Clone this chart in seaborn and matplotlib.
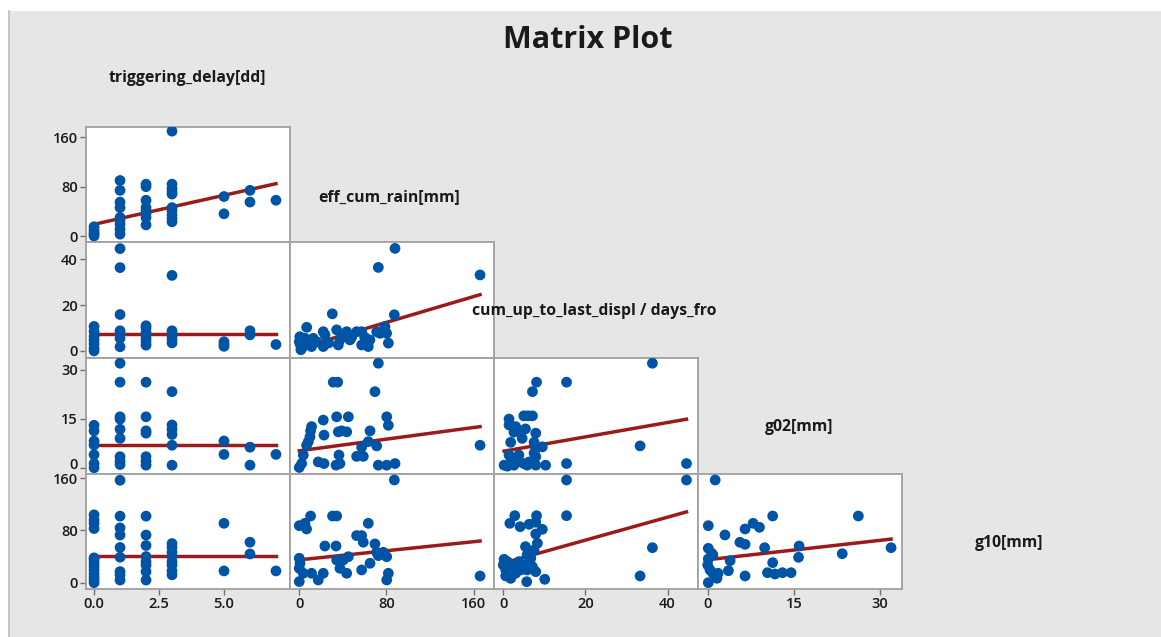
import numpy as np
import pandas as pd
import matplotlib
matplotlib.use("Agg")
import matplotlib.pyplot as plt
import matplotlib.transforms as mtransforms
import seaborn as sns
from matplotlib.patches import Rectangle
from matplotlib.lines import Line2D

# ---------------- data ----------------
variables = ["triggering_delay[dd]", "eff_cum_rain[mm]",
             "cum_up_to_last_displ / days_fro", "g02[mm]", "g10[mm]"]

# x ticks of the columns, y ticks of the rows
col_ticks = [[0, 2.5, 5.0], [0, 80, 160], [0, 20, 40], [0, 15, 30]]
col_ticklabels = [["0.0", "2.5", "5.0"], ["0", "80", "160"], ["0", "20", "40"], ["0", "15", "30"]]
row_ticks = [[0, 80, 160], [0, 20, 40], [0, 15, 30], [0, 80, 160]]
col_lims = [(-0.31, 7.54), (-8.5, 178.6), (-2.26, 47.4), (-1.69, 33.8)]
row_lims = [(-9.7, 176.7), (-3.1, 47.6), (-1.9, 33.6), (-9.7, 166.6)]

# panel (row 0, col 0): triggering_delay vs eff_cum_rain
td_eff_x = [0, 0, 0, 0, 0, 1, 1, 1, 1, 1, 1, 1, 1, 1, 2, 2, 2, 2, 2, 2, 2, 2,
            3, 3, 3, 3, 3, 3, 3, 3, 3, 3, 5, 5, 6, 6, 7]
td_eff_y = [15, 10, 6, 3, 0, 90, 74, 55, 46, 30, 25, 19, 11, 3, 84, 80, 58, 46, 41, 36, 30, 18,
            170, 84, 77, 72, 68, 46, 41, 34, 28, 23, 64, 36, 74, 55, 58]

# panel (1, 0): triggering_delay vs cum_up
td_cum_x = [0, 0, 0, 0, 0, 0, 0, 1, 1, 1, 1, 1, 1, 1, 2, 2, 2, 2, 2, 2, 2,
            3, 3, 3, 3, 3, 3, 5, 5, 5, 6, 6, 7]
td_cum_y = [10.7, 8.5, 6.3, 4.8, 3.1, 1.2, 0, 44.7, 36.4, 15.9, 8.8, 7.6, 5.5, 1.8,
            11, 10, 8, 7, 5.5, 4, 2.5, 33, 8.8, 7.6, 6.3, 5, 3.5, 4, 2.8, 2, 8.8, 7, 2.8]

# panel (1, 1): eff_cum_rain vs cum_up
eff_cum_x = [87.8, 72.5, 165.8, 30.3, 87.2, 6.8, 0.5, 1, 1, 1.5, 0, 5.2, 12.8, 11.3, 3.7,
             22, 22, 23.6, 34.3, 37.3, 35.8, 38.9, 43.5, 46.5, 52.6, 57.2, 57.2, 63.3, 64.8,
             71, 74, 78.6, 80.1, 81.7, 2.5, 8, 16, 27, 48, 60]
eff_cum_y = [44.8, 36.5, 33.2, 16.2, 15.8, 10.3, 6.2, 4.8, 2.7, 0.5, 4, 5.5, 5.5, 1.9, 1.9,
             1.9, 8.4, 7, 9.2, 4.8, 2.6, 6.3, 8.4, 4.8, 8.4, 8.4, 2.6, 1.9, 4.8,
             8.4, 7.7, 10.6, 7.7, 3.4, 2, 3, 4, 3.5, 6, 6]

# panel (2, 0): triggering_delay vs g02
td_g02_x = [0, 0, 0, 0, 0, 0, 0, 1, 1, 1, 1, 1, 1, 1, 1, 1, 2, 2, 2, 2, 2, 2, 2,
            3, 3, 3, 3, 3, 3, 5, 5, 6, 6, 7]
td_g02_y = [13, 11.3, 8.2, 7, 4, 1.3, 0, 32, 26.2, 15.6, 14.9, 11.8, 9, 3.4, 2, 1,
            26.2, 15.6, 11.3, 10.6, 3.4, 2, 0.8, 23.3, 13.1, 11.8, 10.2, 6.9, 0.8,
            8.2, 4.1, 6.3, 0.8, 4.1]

# panel (2, 1): eff_cum_rain vs g02
eff_g02_x = [0, 2.2, 3.7, 6.7, 8.3, 9.8, 10.4, 11.3, 17.4, 22.7, 22, 22.7, 31.2, 35.2, 34.3,
             33.7, 37.3, 36.4, 35.8, 38.9, 43.5, 45, 52.6, 57.2, 58.7, 64.9, 63.3, 69.4, 71,
             72.5, 72.5, 80.2, 87.8, 80.2, 81.7, 165.8]
eff_g02_y = [0.1, 1.3, 3.9, 6.9, 8, 9.5, 11.3, 12.6, 1.8, 1.3, 14.6, 10, 26.2, 26.2, 15.6,
             0.8, 1.3, 3.9, 11, 11.3, 11, 15.6, 3.5, 6.3, 3.5, 11.3, 8, 23.3, 6.7,
             32, 0.8, 0.8, 1.3, 15.6, 13, 6.9]

# panel (2, 2): cum_up vs g02
cum_g02_x = [36.3, 8.1, 15.4, 7.1, 5.0, 7.1, 6.0, 1.4, 1.4, 3.0, 3.4, 5.4, 7.9, 2.6, 1.8,
             4.6, 7.5, 9.5, 7.9, 33.3, 44.6, 15.4, 1.4, 3.8, 0.2, 2.6, 5.0, 5.8, 7.9, 7.9,
             10.3, 6.3, 1.0, 2.0, 3.5, 7.5]
cum_g02_y = [32, 26.2, 26.2, 23.3, 15.9, 15.9, 15.9, 14.9, 13.1, 12.6, 11.6, 11.9, 10.6, 10.9, 7.8,
             9.0, 7.8, 6.4, 6.0, 6.7, 1.3, 1.3, 3.9, 3.9, 0.8, 0.8, 1.3, 0.8, 3.4, 0.8,
             0.8, 1.8, 0.5, 2.5, 1.8, 4.5]

# panel (3, 0): triggering_delay vs g10
td_g10_x = [0] * 13 + [1] * 9 + [2] * 8 + [3] * 8 + [5, 5, 6, 6, 7]
td_g10_y = [104, 96, 91, 83, 38, 35, 30, 25, 19.5, 14, 9, 4, 0,
            157, 102, 84, 73, 54, 39, 17, 12, 4,
            102, 73, 57, 40, 32, 27, 17, 4,
            60, 54, 46.5, 40, 32, 27, 18, 12,
            91, 18, 62, 44, 18]

# panel (3, 1): eff_cum_rain vs g10
eff_g10_x = [0, 6.7, 5.2, 10.4, 0, 0.7, 0, 3.7, 0, 11.3, 17.4, 22, 23.5, 30.5, 34.3, 33.7,
             34.3, 37.3, 40.4, 45, 43.5, 52.6, 57.2, 58.7, 63.3, 57.2, 64.9, 69.4, 71, 72.5,
             77.1, 80.2, 81.7, 80.2, 87.2, 165.8]
eff_g10_y = [87.4, 82.3, 91, 102.2, 37.4, 29.7, 22, 14.4, 1.7, 14.4, 4.1, 14.4, 56.2, 102.2,
             102.2, 56.2, 34.7, 22, 34.7, 39.8, 14.4, 72.2, 72.2, 62, 91, 19.5, 29.7, 59.4,
             46.6, 41.5, 46.6, 39.8, 14.4, 4.1, 157.4, 10.2]

# panel (3, 2): cum_up vs g10
cum_g10_x = [15.4, 44.6, 15.4, 2.8, 8.1, 1.6, 4.1, 6.3, 7.9, 9.5, 7.9, 8.3, 5.4, 7.5, 5.8,
             36.3, 33.3, 10.1, 5.7, 0.2, 0, 0.6, 0.6, 1.8, 2.6, 3.8, 4.2, 6.7, 7.9, 5.0,
             3.0, 7.1, 1.0, 5.8]
cum_g10_y = [157.4, 157.4, 102.7, 102.7, 102.7, 91, 85.8, 89.5, 92.6, 81.8, 74.6, 60.4, 55.2,
             50.1, 42.5, 53.6, 10.3, 5.2, 1.5, 35.8, 27.1, 19.5, 10.3, 6.6, 24.5, 32.2,
             19.5, 37.4, 16.9, 27.1, 14.4, 24.5, 32.2, 19.5]

# panel (3, 3): g02 vs g10
g02_g10_x = [1.3, 0.1, 11.3, 26.2, 3.0, 6.5, 7.9, 9.0, 5.6, 6.5, 9.9, 15.9, 15.8, 23.4, 31.9,
             3.9, 3.6, 6.5, 11.3, 10.4, 11.7, 13.0, 14.5, 0.1, 0.7, 0.1, 0, 0.4, 0.9, 1.6,
             0.1, 0.9, 1.8]
g02_g10_y = [157.4, 87.4, 102.2, 102.2, 73.1, 82.3, 91, 84.9, 61.9, 58.8, 53.6, 56.2, 38.9,
             44.4, 53.6, 33.7, 18.4, 10.3, 30.7, 15.3, 13.3, 15.3, 15.3, 52.7, 45, 36.3,
             27.1, 19.5, 14.4, 6.7, 0, 42.5, 14.4]

panels = {
    (0, 0): (td_eff_x, td_eff_y),
    (1, 0): (td_cum_x, td_cum_y),
    (1, 1): (eff_cum_x, eff_cum_y),
    (2, 0): (td_g02_x, td_g02_y),
    (2, 1): (eff_g02_x, eff_g02_y),
    (2, 2): (cum_g02_x, cum_g02_y),
    (3, 0): (td_g10_x, td_g10_y),
    (3, 1): (eff_g10_x, eff_g10_y),
    (3, 2): (cum_g10_x, cum_g10_y),
    (3, 3): (g02_g10_x, g02_g10_y),
}
# fitted regression lines (intercept, slope)
fit_intercepts = {(0, 0): 19.0, (1, 0): 7.4, (1, 1): 1.2, (2, 0): 6.9, (2, 1): 5.2,
                  (2, 2): 5.06, (3, 0): 40.4, (3, 1): 35.0, (3, 2): 30.0, (3, 3): 35.2}
fit_slopes = {(0, 0): 9.4, (1, 0): 0.0, (1, 1): 0.141, (2, 0): 0.0, (2, 1): 0.0446,
              (2, 2): 0.22, (3, 0): 0.0, (3, 1): 0.174, (3, 2): 1.76, (3, 3): 0.99}

# ---------------- figure ----------------
W, H = 1161, 637
fig = plt.figure(figsize=(W / 100, H / 100), dpi=100)
fig.patch.set_facecolor("white")
plt.rcParams["font.family"] = ["Open Sans", "DejaVu Sans"]

bg = Rectangle((9 / W, 0), 1 - 9 / W, (H - 11) / H, transform=fig.transFigure,
               facecolor="#e6e6e6", edgecolor="none", zorder=-10)
fig.patches.append(bg)
fig.lines.append(Line2D([9 / W, 9 / W], [0, (H - 11) / H], transform=fig.transFigure,
                        color="#bdbdbd", lw=1.2))

col_left = [86, 290, 494, 698]
col_w = 204
row_top = [127, 242, 358, 474]
row_bot = [242, 358, 474, 589]

BLUE = "#0054a6"
RED = "#9b1b1b"
SPINE = "#a0a0a0"

for (r, c), (xs, ys) in panels.items():
    l = col_left[c] / W
    b = 1 - row_bot[r] / H
    h = (row_bot[r] - row_top[r]) / H
    ax = fig.add_axes([l, b, col_w / W, h])
    ax.set_facecolor("white")
    x0, x1 = min(xs), max(xs)
    lx = np.array([x0, x1])
    ly = fit_intercepts[(r, c)] + fit_slopes[(r, c)] * lx
    sns.lineplot(x=lx, y=ly, ax=ax, color=RED, lw=2.5, zorder=2)
    df = pd.DataFrame({"x": xs, "y": ys})
    sns.scatterplot(data=df, x="x", y="y", ax=ax, color=BLUE, s=60,
                    edgecolor="none", linewidth=0, zorder=3)
    ax.set_xlim(col_lims[c])
    ax.set_ylim(row_lims[r])
    ax.set_xlabel("")
    ax.set_ylabel("")
    for sp in ax.spines.values():
        sp.set_color(SPINE)
        sp.set_linewidth(1.3)
    ax.set_xticks(col_ticks[c])
    ax.set_yticks(row_ticks[r])
    ax.tick_params(axis="both", direction="out", length=4, width=1, color="#707070",
                   labelsize=10.5, pad=2, labelcolor="#1a1a1a")
    if r == 3:
        ax.set_xticklabels(col_ticklabels[c], fontweight="semibold")
    else:
        ax.tick_params(axis="x", bottom=False, labelbottom=False)
    if c == 0:
        labels = ax.set_yticklabels([str(t) for t in row_ticks[r]], fontweight="semibold")
        if r == 2:
            # nudge the lowest label up a little so it does not touch the row below
            off = mtransforms.ScaledTranslation(0, 3 / 72, fig.dpi_scale_trans)
            labels[0].set_transform(labels[0].get_transform() + off)
    else:
        ax.tick_params(axis="y", left=False, labelleft=False)

label_pos = [(187, 78), (389, 197), (594, 311), (799, 427), (1009, 543)]
for name, (px, py) in zip(variables, label_pos):
    fig.text(px / W, 1 - py / H, name, ha="center", va="center", fontsize=11.3,
             fontweight="bold", color="#1a1a1a")

fig.text(588 / W, 1 - 40 / H, "Matrix Plot", ha="center", va="center", fontsize=22,
         fontweight="bold", color="#1a1a1a")

fig.savefig("out.png", dpi=100, facecolor=fig.get_facecolor())
